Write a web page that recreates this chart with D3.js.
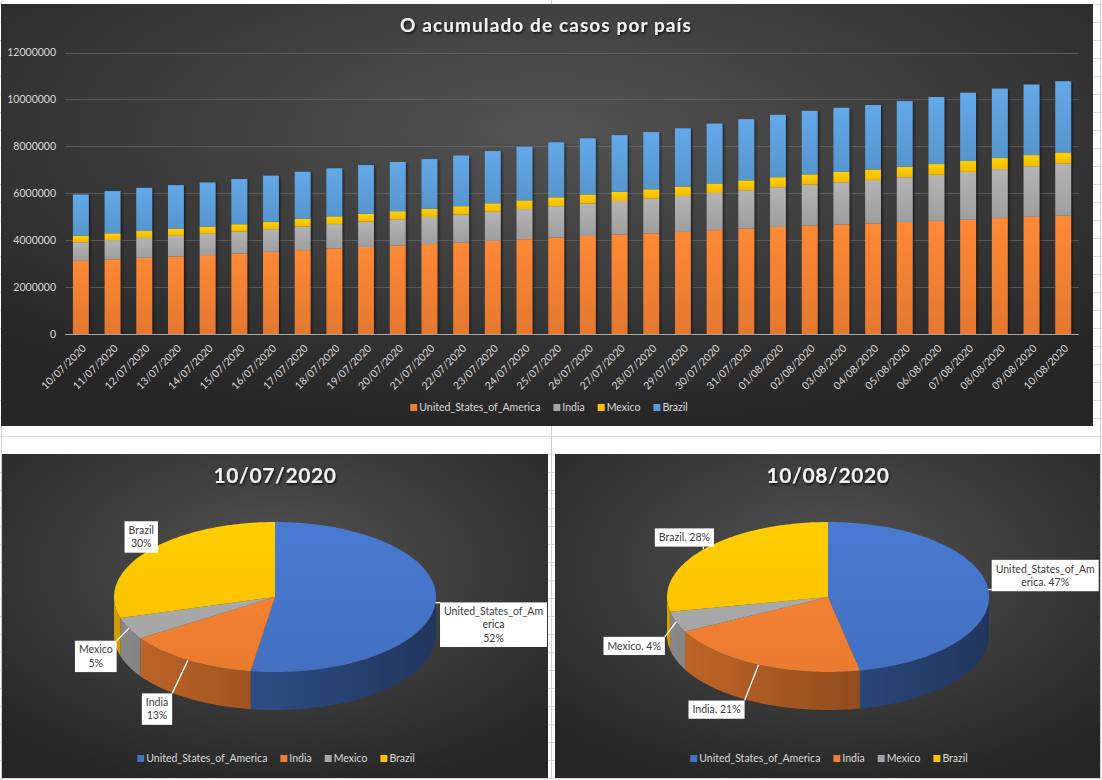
<!DOCTYPE html>
<html><head><meta charset="utf-8">
<script src="https://cdn.jsdelivr.net/npm/d3@7/dist/d3.min.js"></script>
<style>
html,body{margin:0;padding:0;background:#fff;}
svg{display:block;font-family:Lato,"Noto Sans",sans-serif;}
</style></head><body>
<svg id="c" width="1102" height="780"></svg>
<script>
// ---------------- DATA ----------------
const dates = ["10/07/2020","11/07/2020","12/07/2020","13/07/2020","14/07/2020","15/07/2020","16/07/2020","17/07/2020","18/07/2020","19/07/2020","20/07/2020","21/07/2020","22/07/2020","23/07/2020","24/07/2020","25/07/2020","26/07/2020","27/07/2020","28/07/2020","29/07/2020","30/07/2020","31/07/2020","01/08/2020","02/08/2020","03/08/2020","04/08/2020","05/08/2020","06/08/2020","07/08/2020","08/08/2020","09/08/2020","10/08/2020"];
const usa = [3118000,3184000,3245000,3304000,3364000,3431000,3499000,3576000,3647000,3711000,3773000,3834000,3898000,3970000,4038000,4112000,4178000,4234000,4290000,4351000,4426000,4495000,4563000,4621000,4668000,4713000,4772000,4823000,4883000,4942000,4998000,5045000];
const india = [793000,820000,849000,878000,907000,936000,968000,1004000,1038000,1077000,1118000,1155000,1193000,1238000,1287000,1336000,1385000,1435000,1483000,1531000,1583000,1638000,1695000,1750000,1803000,1855000,1908000,1964000,2027000,2088000,2153000,2215000];
const mexico = [282000,289000,295000,299000,304000,311000,318000,324000,331000,338000,344000,349000,356000,362000,370000,378000,385000,390000,395000,402000,408000,416000,424000,434000,439000,443000,449000,456000,463000,469000,475000,480000];
const brazil = [1755000,1800000,1840000,1864000,1885000,1926000,1966000,2012000,2046000,2075000,2099000,2118000,2159000,2227000,2287000,2343000,2394000,2419000,2442000,2483000,2552000,2610000,2662000,2707000,2733000,2750000,2801000,2859000,2912000,2962000,3012000,3035000];
const countries = ["United_States_of_America","India","Mexico","Brazil"];
const yTicks = [0,2000000,4000000,6000000,8000000,10000000,12000000];
const mainTitle = "O acumulado de casos por país";
const barColors = ["#ED7D31","#A5A5A5","#FFC000","#5B9BD5"];
const pieColors = ["#4472C4","#ED7D31","#A5A5A5","#FFC000"];

// ---------------- SETUP ----------------
const svg = d3.select("#c");
const defs = svg.append("defs");
const W = 1102, H = 780;

// spreadsheet grid background
const grid = svg.append("g");
grid.selectAll("line.r").data(d3.range(4, H, 18)).join("line")
  .attr("x1",0).attr("x2",W).attr("y1",d=>d+0.5).attr("y2",d=>d+0.5)
  .attr("stroke","#dcdcdc");
grid.selectAll("line.cl").data([1,551,1100]).join("line")
  .attr("y1",0).attr("y2",H).attr("x1",d=>d+0.5).attr("x2",d=>d+0.5)
  .attr("stroke","#d0d0d0");

function bgGrad(id, cy){
  const g = defs.append("radialGradient").attr("id",id)
    .attr("cx","50%").attr("cy",cy).attr("r","70%").attr("fx","50%").attr("fy",cy);
  g.append("stop").attr("offset","0%").attr("stop-color","#535353");
  g.append("stop").attr("offset","100%").attr("stop-color","#262626");
}
bgGrad("bgTop","30%");
bgGrad("bgPie","35%");

// shadows
const sh = defs.append("filter").attr("id","barShadow").attr("x","-20%").attr("y","-5%").attr("width","160%").attr("height","115%");
sh.append("feDropShadow").attr("dx",1.5).attr("dy",1).attr("stdDeviation",1.3).attr("flood-color","#000").attr("flood-opacity",0.55);
const tsh = defs.append("filter").attr("id","txtShadow").attr("x","-10%").attr("y","-30%").attr("width","120%").attr("height","170%");
tsh.append("feDropShadow").attr("dx",1).attr("dy",1.5).attr("stdDeviation",1.2).attr("flood-color","#000").attr("flood-opacity",0.8);

// vertical gradients for bars
barColors.forEach((c,i)=>{
  const g = defs.append("linearGradient").attr("id","bar"+i).attr("x1",0).attr("x2",0).attr("y1",0).attr("y2",1);
  g.append("stop").attr("offset","0%").attr("stop-color",d3.color(c).brighter(0.25));
  g.append("stop").attr("offset","100%").attr("stop-color",d3.color(c).darker(0.12));
});

// ---------------- TOP STACKED BAR CHART ----------------
const topG = svg.append("g");
topG.append("rect").attr("x",1).attr("y",4).attr("width",1092).attr("height",422).attr("fill","url(#bgTop)");

topG.append("text").text(mainTitle)
  .attr("x",546).attr("y",31.5).attr("text-anchor","middle")
  .attr("font-size",19).attr("font-weight","bold").attr("letter-spacing",1.1)
  .attr("fill","#f2f2f2").attr("filter","url(#txtShadow)");

const x = d3.scaleBand().domain(dates).range([65,1079]).paddingInner(0.5).paddingOuter(0.25);
const y = d3.scaleLinear().domain([0,12000000]).range([334,52.5]);

topG.append("g").selectAll("line").data(yTicks.slice(1)).join("line")
  .attr("x1",65).attr("x2",1079).attr("y1",d=>Math.round(y(d))+0.5).attr("y2",d=>Math.round(y(d))+0.5)
  .attr("stroke","#6a6a6a").attr("stroke-opacity",0.7);

const yAxis = topG.append("g").attr("transform","translate(56,0)")
  .call(d3.axisLeft(y).tickValues(yTicks).tickFormat(d3.format("d")).tickSize(0).tickPadding(0));
yAxis.select(".domain").remove();
yAxis.selectAll("text").attr("fill","#d9d9d9").attr("font-size",10.5).attr("font-family","Lato,'Noto Sans',sans-serif");

const rows = dates.map((d,i)=>({date:d, United_States_of_America:usa[i], India:india[i], Mexico:mexico[i], Brazil:brazil[i]}));
const stacked = d3.stack().keys(countries)(rows);

const barsG = topG.append("g").attr("filter","url(#barShadow)");
stacked.forEach((layer,li)=>{
  barsG.append("g").selectAll("rect").data(layer).join("rect")
    .attr("x",d=>x(d.data.date)).attr("width",x.bandwidth())
    .attr("y",d=>y(d[1])).attr("height",d=>y(d[0])-y(d[1]))
    .attr("fill","url(#bar"+li+")");
});

const xAxis = topG.append("g").attr("transform","translate(0,334)")
  .call(d3.axisBottom(x).tickSize(0));
xAxis.select(".domain").attr("stroke","#a6a6a6").attr("d","M65,0.5H1079");
xAxis.selectAll("text")
  .attr("fill","#d9d9d9").attr("font-size",10.5).attr("font-family","Lato,'Noto Sans',sans-serif")
  .attr("text-anchor","end").attr("y",0).attr("dy",0).attr("x",0)
  .attr("transform","translate(6,15) rotate(-45)");

// legend helper
function legend(g, cx, cy, colors, names){
  const lg = g.append("g");
  const items = lg.selectAll("g").data(names).join("g");
  items.append("rect").attr("width",7).attr("height",7).attr("y",-5).attr("fill",(d,i)=>colors[i]);
  items.append("text").text(d=>d).attr("x",9).attr("y",-1.5).attr("dy","0.32em")
    .attr("font-size",10.5).attr("fill","#d9d9d9");
  let pos = 0; const gap = 13;
  items.each(function(){
    const w = 9 + d3.select(this).select("text").node().getComputedTextLength();
    d3.select(this).attr("transform",`translate(${pos},0)`);
    pos += w + gap;
  });
  const total = pos - gap;
  lg.attr("transform",`translate(${cx-total/2},${cy})`);
}
legend(topG, 549, 409, barColors, countries);

// ---------------- PIE CHARTS ----------------
const fmtPct = d3.format(".0%");
function wrapText(s, n){ const out=[]; for(let i=0;i<s.length;i+=n) out.push(s.slice(i,i+n)); return out; }

const pieLayout = d3.pie().sort(null).value(d=>d);

function drawPie(cfg){
  const g = svg.append("g");
  g.append("rect").attr("x",cfg.px).attr("y",454).attr("width",cfg.pw).attr("height",324).attr("fill","url(#bgPie)");
  g.append("text").text(cfg.title).attr("x",cfg.cx).attr("y",483).attr("text-anchor","middle")
    .attr("font-size",21).attr("font-weight","bold").attr("letter-spacing",0.6)
    .attr("fill","#f2f2f2").attr("filter","url(#txtShadow)");

  const {cx,cy,rx,ry,depth} = cfg;
  const total = d3.sum(cfg.values);
  const arcs = pieLayout(cfg.values);
  const pt = a => [cx + rx*Math.sin(a), cy - ry*Math.cos(a)];
  const sample = (a0,a1) => { const n = Math.max(2, Math.ceil((a1-a0)/0.02)); return d3.range(n+1).map(k=>a0+(a1-a0)*k/n); };

  cfg.colors.forEach((c,i)=>{
    const sg = defs.append("linearGradient").attr("id",cfg.id+"side"+i).attr("gradientUnits","userSpaceOnUse")
      .attr("x1",cx-rx).attr("x2",cx+rx).attr("y1",0).attr("y2",0);
    sg.append("stop").attr("offset","0%").attr("stop-color",d3.color(c).darker(0.55));
    sg.append("stop").attr("offset","100%").attr("stop-color",d3.color(c).darker(2.1));
    const tg = defs.append("linearGradient").attr("id",cfg.id+"top"+i).attr("gradientUnits","userSpaceOnUse")
      .attr("x1",0).attr("x2",0).attr("y1",cy-ry).attr("y2",cy+ry);
    tg.append("stop").attr("offset","0%").attr("stop-color",d3.color(c).brighter(0.2));
    tg.append("stop").attr("offset","100%").attr("stop-color",d3.color(c).darker(0.05));
  });

  const line = d3.line();
  arcs.forEach((a,i)=>{
    const b0 = Math.max(a.startAngle, Math.PI/2), b1 = Math.min(a.endAngle, 3*Math.PI/2);
    if (b1 <= b0) return;
    const s = sample(b0,b1);
    const topPts = s.map(pt);
    const botPts = s.slice().reverse().map(t=>{const p=pt(t); return [p[0],p[1]+depth];});
    g.append("path").attr("d", line(topPts.concat(botPts))+"Z").attr("fill",`url(#${cfg.id}side${i})`);
  });
  arcs.forEach((a,i)=>{
    const pts = [[cx,cy]].concat(sample(a.startAngle,a.endAngle).map(pt));
    g.append("path").attr("d", line(pts)+"Z").attr("fill",`url(#${cfg.id}top${i})`);
  });

  arcs.forEach((a,i)=>{
    const mid = (a.startAngle+a.endAngle)/2;
    const anc = pt(mid);
    const pct = fmtPct(a.value/total);
    const lines = cfg.labelStyle === "stack" ? wrapText(countries[i],19).concat([pct]) : wrapText(countries[i]+". "+pct,19);
    const off = cfg.offsets[i];
    const bx = anc[0]+off[0], by = anc[1]+off[1];
    const lg = g.append("g");
    const lead = lg.append("line").attr("stroke","#ffffff").attr("stroke-width",1.3);
    const box = lg.append("rect").attr("fill","#ffffff");
    const lh = 13.2;
    const t = lg.append("text").attr("font-size",10.5).attr("fill","#404040").attr("text-anchor","middle");
    lines.forEach((L,k)=>{
      t.append("tspan").text(L).attr("x",bx).attr("y",by + (k-(lines.length-1)/2)*lh).attr("dy","0.35em");
    });
    let w = 0; t.selectAll("tspan").each(function(){ w = Math.max(w, this.getComputedTextLength()); });
    const bw = w + 8, bh = lines.length*lh + 5;
    box.attr("x",bx-bw/2).attr("y",by-bh/2).attr("width",bw).attr("height",bh);
    const qx = Math.max(bx-bw/2, Math.min(anc[0], bx+bw/2));
    const qy = Math.max(by-bh/2, Math.min(anc[1], by+bh/2));
    lead.attr("x1",anc[0]).attr("y1",anc[1]).attr("x2",qx).attr("y2",qy);
  });

  legend(g, cfg.cx+1, 760, cfg.colors, countries);
}

const first = [usa[0], india[0], mexico[0], brazil[0]];
const last = [usa[usa.length-1], india[india.length-1], mexico[mexico.length-1], brazil[brazil.length-1]];

drawPie({id:"p1", title:dates[0], values:first, colors:pieColors, px:2, pw:546,
  cx:275, cy:597, rx:161, ry:75, depth:38, labelStyle:"stack",
  offsets:[[58,22],[-31,49],[-33,28],[-5,-15]]});
drawPie({id:"p2", title:dates[dates.length-1], values:last, colors:pieColors, px:555, pw:545,
  cx:828, cy:597, rx:161, ry:75, depth:38, labelStyle:"inline",
  offsets:[[57,-14],[-42,45],[-42,24],[-19,-12]]});
</script>
</body></html>
